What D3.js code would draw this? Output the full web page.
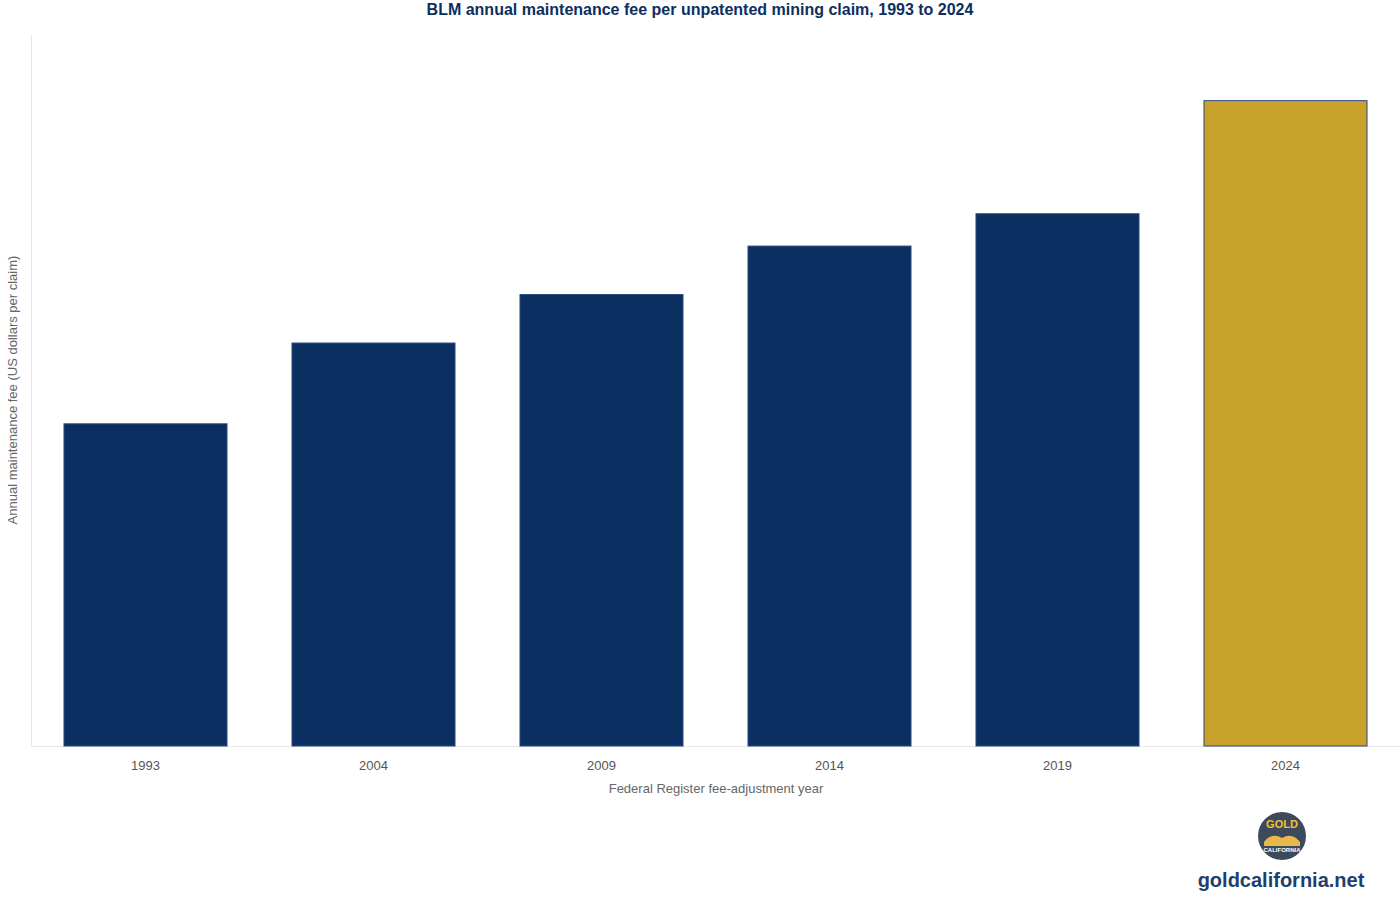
<!DOCTYPE html>
<html><head><meta charset="utf-8">
<script src="https://cdn.jsdelivr.net/npm/d3@7"></script>
<style>body{margin:0;background:#fff;font-family:"Liberation Sans",Arial,sans-serif}</style>
</head><body><svg id="c" width="1400" height="917"></svg>
<script>
const years = ["1993","2004","2009","2014","2019","2024"];
const fees = [100,125,140,155,165,200];
const colors = ["#0c2f61","#0c2f61","#0c2f61","#0c2f61","#0c2f61","#c9a22b"];

const svg = d3.select("#c");
const x = d3.scaleBand().domain(years).range([31.5,1399.5]).paddingInner(0.285).paddingOuter(0.1425);
const y = d3.scaleLinear().domain([0,220]).range([747,36]);

svg.append("text").attr("x",700).attr("y",15).attr("text-anchor","middle")
  .attr("font-size",16).attr("font-weight","bold").attr("fill","#0c2f61")
  .text("BLM annual maintenance fee per unpatented mining claim, 1993 to 2024");

svg.append("line").attr("x1",31.5).attr("x2",31.5).attr("y1",35).attr("y2",746).attr("stroke","#e5e5e5");
svg.append("line").attr("x1",31.5).attr("x2",1400).attr("y1",746.5).attr("y2",746.5).attr("stroke","#e5e5e5");

svg.selectAll("rect.bar").data(years).join("rect").attr("class","bar")
  .attr("x",d=>x(d)).attr("width",x.bandwidth())
  .attr("y",(d,i)=>y(fees[i])).attr("height",(d,i)=>746-y(fees[i]))
  .attr("fill",(d,i)=>colors[i]).attr("stroke","#2a4a80").attr("stroke-width",1);

const ax = svg.append("g").attr("transform","translate(0,746)")
  .call(d3.axisBottom(x).tickSize(0).tickPadding(15));
ax.select(".domain").remove();
ax.selectAll("text").attr("font-size",13).attr("fill","#555").attr("font-family","Liberation Sans, Arial");

svg.append("text").attr("x",716).attr("y",793).attr("text-anchor","middle")
  .attr("font-size",13).attr("fill","#666").text("Federal Register fee-adjustment year");
svg.append("text").attr("transform","translate(17,390) rotate(-90)").attr("text-anchor","middle")
  .attr("font-size",13).attr("fill","#666").text("Annual maintenance fee (US dollars per claim)");

const lg = svg.append("g").attr("transform","translate(1282,836)");
lg.append("circle").attr("r",24).attr("fill","#3c4a5c");
lg.append("path").attr("d","M-18,6 Q-10,-4 0,2 Q10,-4 18,6 L18,10 L-18,10Z").attr("fill","#e8b84a");
lg.append("text").attr("y",-8).attr("text-anchor","middle").attr("font-size",11).attr("font-weight","bold").attr("fill","#f2c230").text("GOLD");
lg.append("text").attr("y",16).attr("text-anchor","middle").attr("font-size",6).attr("font-weight","bold").attr("fill","#fff").text("CALIFORNIA");
svg.append("text").attr("x",1281).attr("y",887).attr("text-anchor","middle")
  .attr("font-size",20).attr("font-weight","bold").attr("fill","#1e3f6b").text("goldcalifornia.net");
</script></body></html>
